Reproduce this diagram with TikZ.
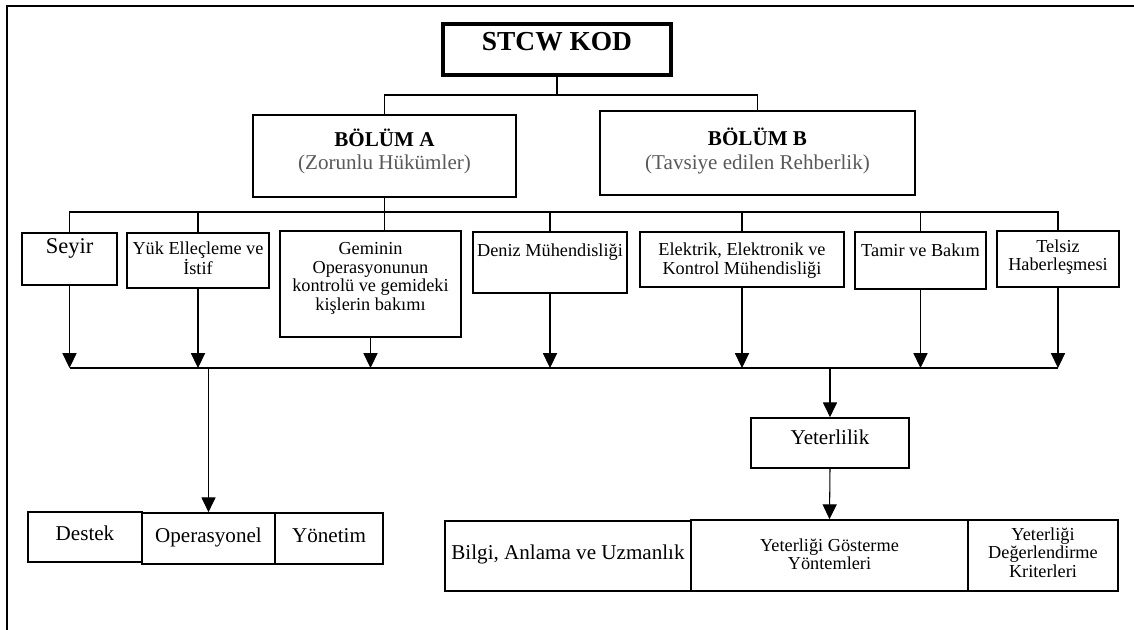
\documentclass[tikz,border=0pt]{standalone}
\usepackage{fontspec}
\setmainfont{Liberation Serif}
\usepackage{xcolor}
\usetikzlibrary{arrows.meta,fit,positioning}

\definecolor{altgri}{HTML}{595959}

\tikzset{
    cerceve/.style={line width=1.5pt},
    kutu/.style={draw, line width=1.2pt, inner sep=0pt},
    kalinkutu/.style={draw, line width=3.3pt, inner sep=0pt},
    yazi13/.style={font=\fontsize{13}{13.3}\selectfont},
    yazi15/.style={font=\fontsize{15}{16.4}\selectfont},
    ust/.style={inner sep=0pt, align=center, anchor=north},
    taban/.style={inner sep=0pt, anchor=base},
    baglanti/.style={line width=0.75pt},
    ok/.style={baglanti, -{Triangle[width=10pt,length=10.5pt]}}
}

\begin{document}
\begin{tikzpicture}[x=0.025cm, y=-0.025cm]
    \useasboundingbox (0,0) rectangle (1134,630);
    % dis cerceve
    \draw[cerceve] (1134,6) -- (7,6) -- (7,630);

    % kod ve bolumler
    \node[kalinkutu, fit={(443,24) (671,75)},
        label={[taban, font=\fontsize{19.5}{20}\selectfont\bfseries, yshift=-20.6pt]north:STCW KOD}] (stcw) {};
    \node[kutu, fit={(253,115) (516,197)},
        label={[ust, yazi15, yshift=-10pt]north:\textbf{BÖLÜM A}\\\textcolor{altgri}{(Zorunlu Hükümler)}}] (bolumA) {};
    \node[kutu, fit={(600,111) (915,195)},
        label={[ust, yazi15, yshift=-12.8pt]north:\textbf{BÖLÜM B}\\\textcolor{altgri}{(Tavsiye edilen Rehberlik)}}] (bolumB) {};

    % fonksiyonlar
    \node[kutu, fit={(22,233) (117,285)},
        label={[taban, font=\fontsize{16}{17}\selectfont, yshift=-14.9pt]north:Seyir}] (seyir) {};
    \node[kutu, fit={(127,233) (269,288)},
        label={[ust, yazi13, yshift=-6.4pt]north:Yük Elleçleme ve\\İstif}] (yuk) {};
    \node[kutu, fit={(280,231) (461,337)},
        label={[ust, yazi13, yshift=-8.5pt]north:Geminin\\Operasyonunun\\kontrolü ve gemideki\\kişlerin bakımı}] (geminin) {};
    \node[kutu, fit={(473,232) (627,293)},
        label={[taban, yazi13, yshift=-17.8pt]north:Deniz Mühendisliği}] (deniz) {};
    \node[kutu, fit={(640,232) (844,287)},
        label={[ust, yazi13, yshift=-8.2pt]north:Elektrik, Elektronik ve\\Kontrol Mühendisliği}] (elektrik) {};
    \node[kutu, fit={(855,232) (986,289)},
        label={[taban, yazi13, yshift=-17.8pt]north:Tamir ve Bakım}] (tamir) {};
    \node[kutu, fit={(997,231) (1119,287)},
        label={[ust, yazi13, yshift=-6.4pt]north:Telsiz\\Haberleşmesi}] (telsiz) {};

    % sorumluluk seviyeleri
    \node[kutu, fit={(28,512) (142,562)},
        label={[taban, yazi15, yshift=-20.6pt]north:Destek}] (destek) {};
    \node[kutu, fit={(142,513) (275,564)},
        label={[taban, yazi15, yshift=-21.3pt]north:Operasyonel}] (operasyonel) {};
    \node[kutu, fit={(275,513) (383,564)},
        label={[taban, yazi15, yshift=-21.3pt]north:Yönetim}] (yonetim) {};

    % yeterlilik
    \node[kutu, fit={(751,418) (909,468)},
        label={[taban, yazi15, yshift=-19.2pt]north:Yeterlilik}] (yeterlilik) {};
    \node[kutu, fit={(445,521) (691,591)},
        label={[taban, yazi15, yshift=-27.7pt]north:Bilgi, Anlama ve Uzmanlık}] (bilgi) {};
    \node[kutu, fit={(691,520) (968,591)},
        label={[ust, yazi13, yshift=-13.5pt]north:Yeterliği Gösterme\\Yöntemleri}] (gosterme) {};
    \node[kutu, fit={(968,520) (1118,591)},
        label={[ust, yazi13, yshift=-5.7pt]north:Yeterliği\\Değerlendirme\\Kriterleri}] (degerlendirme) {};

    % baglantilar
    \coordinate (usthat) at (0,95);
    \coordinate (ortahat) at (0,212);
    \coordinate (althat) at (0,368);

    \draw[baglanti] (stcw.south) -- (stcw.south |- usthat);
    \draw[baglanti] (bolumA.north) |- (usthat -| bolumB.north) -- (bolumB.north);

    \draw[baglanti] (bolumA.south) -- (bolumA.south |- geminin.north);
    \draw[baglanti] (seyir.north) |- (ortahat -| telsiz.north) -- (telsiz.north);
    \foreach \k in {yuk,deniz,elektrik,tamir}
        \draw[baglanti] (\k.north) -- (\k.north |- ortahat);

    \foreach \k in {seyir,yuk,geminin,deniz,elektrik,tamir,telsiz}
        \draw[ok] (\k.south) -- (\k.south |- althat);
    \draw[baglanti] (althat -| seyir.south) -- (althat -| telsiz.south);

    \draw[ok] (althat -| operasyonel.north) -- (operasyonel.north);
    \draw[ok] (althat -| yeterlilik.north) -- (yeterlilik.north);
    \draw[ok] (yeterlilik.south) -- (gosterme.north);
\end{tikzpicture}
\end{document}
